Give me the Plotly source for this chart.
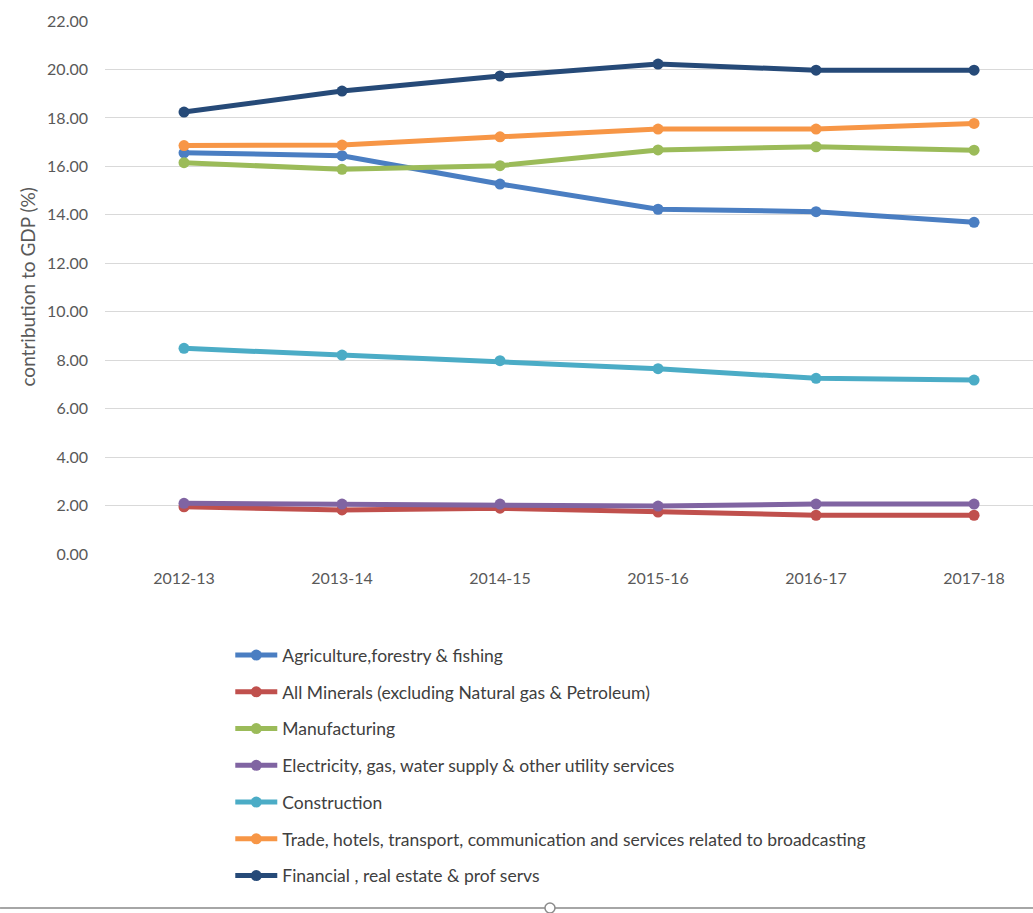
import plotly.graph_objects as go

years = ["2012-13", "2013-14", "2014-15", "2015-16", "2016-17", "2017-18"]

agriculture = [16.56, 16.44, 15.27, 14.23, 14.13, 13.69]
minerals = [1.95, 1.82, 1.89, 1.73, 1.60, 1.60]
manufacturing = [16.15, 15.88, 16.03, 16.68, 16.81, 16.67]
electricity = [2.09, 2.06, 2.06, 1.98, 2.06, 2.06]
construction = [8.49, 8.21, 7.98, 7.65, 7.25, 7.18]
trade = [16.86, 16.88, 17.22, 17.54, 17.54, 17.77]
financial = [18.24, 19.11, 19.73, 20.22, 19.97, 19.97]

series_names = [
    "Agriculture,forestry & fishing",
    "All Minerals (excluding Natural gas & Petroleum)",
    "Manufacturing",
    "Electricity, gas, water supply & other utility services",
    "Construction",
    "Trade, hotels, transport, communication and services related to broadcasting",
    "Financial , real estate & prof servs",
]
series_values = [agriculture, minerals, manufacturing, electricity, construction, trade, financial]
series_colors = ["#4A7EC2", "#C0504D", "#9BBB59", "#8064A2", "#4BACC6", "#F79646", "#264A78"]

y_ticks = [0, 2, 4, 6, 8, 10, 12, 14, 16, 18, 20, 22]

fig = go.Figure()
for name, vals, col in zip(series_names, series_values, series_colors):
    fig.add_trace(go.Scatter(
        x=years, y=vals, name=name, mode="lines+markers",
        line=dict(color=col, width=5),
        marker=dict(color=col, size=11),
        legendgroup=name,
    ))

FONT = "Lato, Open Sans, sans-serif"
fig.update_layout(
    width=1033, height=913,
    margin=dict(l=105, r=0, t=21, b=359),
    plot_bgcolor="white", paper_bgcolor="white",
    font=dict(family=FONT, color="#595959", size=16),
    showlegend=True,
    legend=dict(
        x=0.135, y=-0.156, xanchor="left", yanchor="top",
        orientation="v", traceorder="grouped",
        font=dict(family=FONT, size=17.5, color="#404040"),
        tracegroupgap=11, itemwidth=42,
        bgcolor="rgba(0,0,0,0)",
    ),
    xaxis=dict(
        range=[-0.5, 5.373], showgrid=False, showline=False, zeroline=False,
        tickfont=dict(size=16, color="#595959"), ticks="", ticklabelstandoff=13,
    ),
    yaxis=dict(
        range=[0, 22], tickvals=y_ticks, tickformat=".2f",
        showgrid=True, gridcolor="#D9D9D9", gridwidth=1,
        zeroline=False, showline=False, ticks="",
        tickfont=dict(size=16, color="#595959"), ticklabelstandoff=16,
    ),
    hovermode=False,
    annotations=[dict(
        text="contribution to GDP (%)", xref="paper", yref="paper",
        x=-0.084, y=0.5, textangle=-90, showarrow=False,
        xanchor="center", yanchor="middle",
        font=dict(family=FONT, size=19, color="#595959"),
    )],
    shapes=[
        dict(type="line", xref="paper", yref="paper", x0=-0.1131, x1=1.0,
             y0=-0.664, y1=-0.664, line=dict(color="#A6A6A6", width=2)),
        dict(type="circle", xref="paper", yref="paper", x0=0.4741, x1=0.4849,
             y0=-0.6735, y1=-0.655, fillcolor="white",
             line=dict(color="#8C8C8C", width=1.5)),
    ],
)

fig.write_html("out.html")
